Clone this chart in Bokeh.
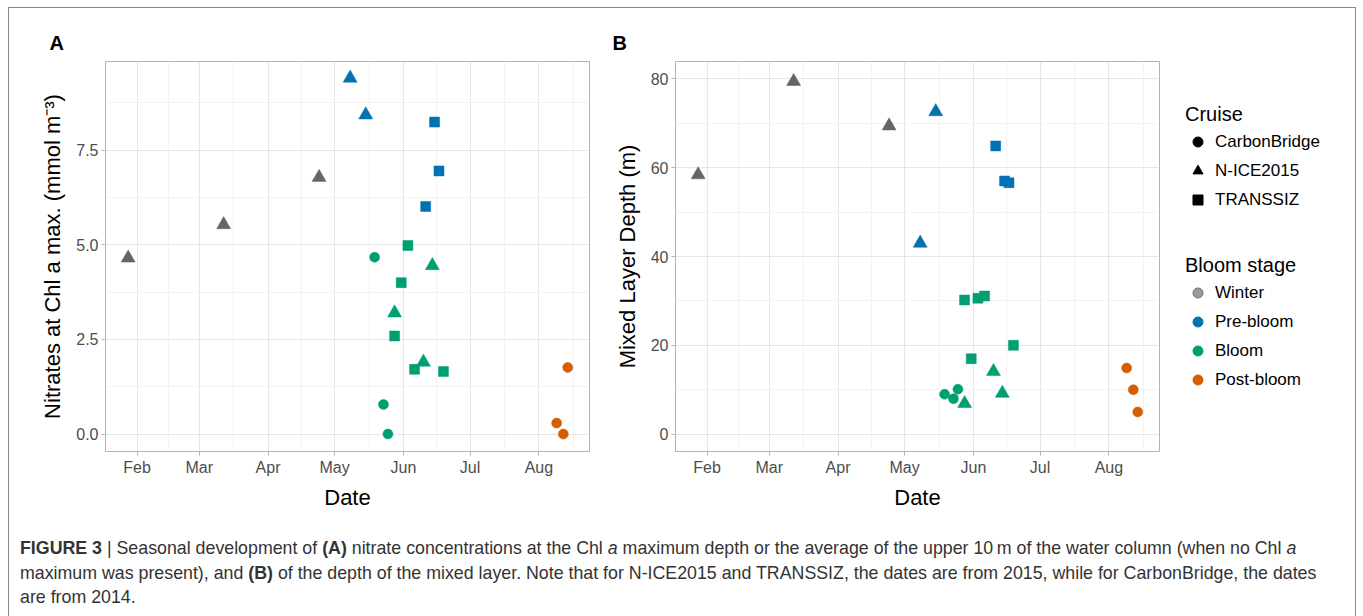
import pandas as pd
from bokeh.plotting import figure
from bokeh.models import (ColumnDataSource, Range1d, FixedTicker, DatetimeTickFormatter,
                          NumeralTickFormatter, Title, Legend, LegendItem, Div)
from bokeh.layouts import row, column
from bokeh.embed import file_html
from bokeh.resources import INLINE

FONT = "Liberation Sans"

# ---------------- data: panel A (nitrate at Chl a max) ----------------
a_date = ["2015-01-28", "2015-03-12", "2015-04-24",
          "2015-05-08", "2015-05-15", "2015-06-15", "2015-06-17", "2015-06-11",
          "2015-05-19", "2015-05-23", "2015-05-25",
          "2015-06-03", "2015-05-31", "2015-05-28", "2015-06-06", "2015-06-19",
          "2015-06-14", "2015-05-28", "2015-06-10",
          "2015-08-14", "2015-08-09", "2015-08-12"]
a_nitrate = [4.65, 5.53, 6.78,
             9.40, 8.43, 8.24, 6.95, 6.01,
             4.67, 0.78, 0.00,
             4.98, 4.00, 2.59, 1.71, 1.65,
             4.45, 3.20, 1.90,
             1.76, 0.29, 0.00]
a_cruise = ["N-ICE2015", "N-ICE2015", "N-ICE2015",
            "N-ICE2015", "N-ICE2015", "TRANSSIZ", "TRANSSIZ", "TRANSSIZ",
            "CarbonBridge", "CarbonBridge", "CarbonBridge",
            "TRANSSIZ", "TRANSSIZ", "TRANSSIZ", "TRANSSIZ", "TRANSSIZ",
            "N-ICE2015", "N-ICE2015", "N-ICE2015",
            "CarbonBridge", "CarbonBridge", "CarbonBridge"]
a_stage = ["Winter", "Winter", "Winter",
           "Pre-bloom", "Pre-bloom", "Pre-bloom", "Pre-bloom", "Pre-bloom",
           "Bloom", "Bloom", "Bloom",
           "Bloom", "Bloom", "Bloom", "Bloom", "Bloom",
           "Bloom", "Bloom", "Bloom",
           "Post-bloom", "Post-bloom", "Post-bloom"]

# ---------------- data: panel B (mixed layer depth) ----------------
b_date = ["2015-01-28", "2015-03-12", "2015-04-24",
          "2015-05-15", "2015-05-08", "2015-06-11", "2015-06-15", "2015-06-17",
          "2015-05-28", "2015-06-03", "2015-06-06", "2015-05-31", "2015-06-19",
          "2015-06-10", "2015-06-14", "2015-05-28",
          "2015-05-19", "2015-05-23", "2015-05-25",
          "2015-08-09", "2015-08-12", "2015-08-14"]
b_mld = [58.4, 79.4, 69.4,
         72.6, 43.0, 64.9, 57.0, 56.6,
         30.2, 30.6, 31.1, 17.0, 20.0,
         14.1, 9.2, 6.9,
         9.0, 8.0, 10.1,
         14.9, 10.0, 5.0]
b_cruise = ["N-ICE2015", "N-ICE2015", "N-ICE2015",
            "N-ICE2015", "N-ICE2015", "TRANSSIZ", "TRANSSIZ", "TRANSSIZ",
            "TRANSSIZ", "TRANSSIZ", "TRANSSIZ", "TRANSSIZ", "TRANSSIZ",
            "N-ICE2015", "N-ICE2015", "N-ICE2015",
            "CarbonBridge", "CarbonBridge", "CarbonBridge",
            "CarbonBridge", "CarbonBridge", "CarbonBridge"]
b_stage = ["Winter", "Winter", "Winter",
           "Pre-bloom", "Pre-bloom", "Pre-bloom", "Pre-bloom", "Pre-bloom",
           "Bloom", "Bloom", "Bloom", "Bloom", "Bloom",
           "Bloom", "Bloom", "Bloom",
           "Bloom", "Bloom", "Bloom",
           "Post-bloom", "Post-bloom", "Post-bloom"]

cruises = ["CarbonBridge", "N-ICE2015", "TRANSSIZ"]
stages = ["Winter", "Pre-bloom", "Bloom", "Post-bloom"]
month_labels = ["2015-02-01", "2015-03-01", "2015-04-01", "2015-05-01",
                "2015-06-01", "2015-07-01", "2015-08-01"]
month_minor = ["2015-02-15", "2015-03-16 12:00", "2015-04-16", "2015-05-16 12:00",
               "2015-06-16", "2015-07-16 12:00", "2015-08-16 12:00"]
x_start, x_end = "2015-01-17 19:00", "2015-08-23 19:00"

MARKER = {"CarbonBridge": "circle", "N-ICE2015": "triangle", "TRANSSIZ": "square"}
MSIZE = {"CarbonBridge": 10, "N-ICE2015": 14, "TRANSSIZ": 10}
COLOR = {"Winter": "#656565", "Pre-bloom": "#0072B2", "Bloom": "#009E73", "Post-bloom": "#D55E00"}

GRID_MAJOR = "#e6e6e6"
GRID_MINOR = "#f2f2f2"
BORDER = "#b3b3b3"


def ms(s):
    return pd.Timestamp(s).value // 10**6


def panel(dates, vals, crs, stg, yr, yticks, yminor, yfmt, ylabel, letter,
          mbl, mbr, loff):
    p = figure(frame_width=484, frame_height=390, x_axis_type="datetime",
               x_range=Range1d(pd.Timestamp(x_start), pd.Timestamp(x_end)),
               y_range=Range1d(yr[0], yr[1]),
               output_backend="svg", toolbar_location=None,
               min_border_left=mbl, min_border_right=mbr,
               min_border_top=53, min_border_bottom=64,
               background_fill_color="white", border_fill_color="white")
    p.outline_line_color = BORDER
    p.outline_line_width = 1

    xt = FixedTicker(ticks=[ms(d) for d in month_labels], minor_ticks=[ms(d) for d in month_minor])
    p.xaxis.ticker = xt
    p.xgrid.ticker = xt
    fmt = "%b"
    p.xaxis.formatter = DatetimeTickFormatter(
        microseconds=fmt, milliseconds=fmt, seconds=fmt, minsec=fmt, minutes=fmt,
        hourmin=fmt, hours=fmt, days=fmt, months=fmt, years=fmt)
    yt = FixedTicker(ticks=yticks, minor_ticks=yminor)
    p.yaxis.ticker = yt
    p.ygrid.ticker = yt
    p.yaxis.formatter = NumeralTickFormatter(format=yfmt)

    for g in (p.xgrid, p.ygrid):
        g.grid_line_color = GRID_MAJOR
        g.grid_line_width = 1
        g.minor_grid_line_color = GRID_MINOR
        g.minor_grid_line_width = 1

    for ax in (p.xaxis, p.yaxis):
        ax.axis_line_color = None
        ax.major_tick_line_color = BORDER
        ax.major_tick_in = 0
        ax.major_tick_out = 4
        ax.minor_tick_line_color = None
        ax.major_label_text_font = FONT
        ax.major_label_text_font_size = "16px"
        ax.major_label_text_color = "#4d4d4d"
        ax.axis_label_text_font = FONT
        ax.axis_label_text_font_size = "22px"
        ax.axis_label_text_font_style = "normal"
        ax.axis_label_text_color = "#000000"
    p.xaxis.axis_label = "Date"
    p.xaxis.major_label_standoff = 3
    p.xaxis.axis_label_standoff = 6
    p.yaxis.axis_label = ylabel
    p.yaxis.major_label_standoff = 3
    p.yaxis.axis_label_standoff = 8

    src = ColumnDataSource(dict(
        x=[pd.Timestamp(d) for d in dates], y=vals,
        marker=[MARKER[c] for c in crs], size=[MSIZE[c] for c in crs],
        color=[COLOR[s] for s in stg]))
    p.scatter("x", "y", source=src, marker="marker", size="size",
              fill_color="color", line_color="color", line_width=0.5)

    p.add_layout(Title(text=letter, align="left", offset=loff, standoff=16,
                       text_font=FONT, text_font_size="20px", text_font_style="bold",
                       text_color="#000000"), "above")
    return p


pA = panel(a_date, a_nitrate, a_cruise, a_stage, (-0.46, 9.84), [0, 2.5, 5, 7.5],
           [1.25, 3.75, 6.25, 8.75], "0.0", "Nitrates at Chl a max. (mmol m\u207b\u00b3)",
           "A", 96, 11, -56)
pB = panel(b_date, b_mld, b_cruise, b_stage, (-3.9, 83.9), [0, 20, 40, 60, 80],
           [10, 30, 50, 70], "0", "Mixed Layer Depth (m)", "B", 75, 16, -63)


def legend_fig(top, fh, title, labels, kinds):
    p = figure(frame_width=169, frame_height=fh, x_range=Range1d(0, 1), y_range=Range1d(0, 1),
               x_axis_location=None, y_axis_location=None, toolbar_location=None,
               output_backend="svg", min_border_left=10, min_border_right=0,
               min_border_top=top, min_border_bottom=0,
               background_fill_color="white", border_fill_color="white")
    p.outline_line_color = None
    p.xgrid.visible = False
    p.ygrid.visible = False
    items = []
    for lab, (mk, fc, lc) in zip(labels, kinds):
        # legend proxy: a renderer whose only point is NaN, so nothing shows in the frame
        r = p.scatter(x=[float("nan")], y=[float("nan")], marker=mk, size=10,
                      fill_color=fc, line_color=lc, line_width=1)
        items.append(LegendItem(label=lab, renderers=[r]))
    leg = Legend(items=items, title=title, location="top_left", margin=0, padding=0,
                 spacing=4, glyph_width=25, glyph_height=25, label_height=25,
                 label_standoff=5, title_standoff=3,
                 title_text_font=FONT, title_text_font_size="20px", title_text_font_style="normal",
                 title_text_color="#000000",
                 label_text_font=FONT, label_text_font_size="17px", label_text_color="#000000",
                 border_line_color=None, background_fill_alpha=0)
    p.add_layout(leg)
    return p


pL1 = legend_fig(95, 151, "Cruise", cruises,
                 [("circle", "black", "black"), ("triangle", "black", "black"),
                  ("square", "black", "black")])
pL2 = legend_fig(0, 260, "Bloom stage", stages,
                 [("circle", "#9a9a9a", "#6e6e6e"), ("circle", COLOR["Pre-bloom"], COLOR["Pre-bloom"]),
                  ("circle", COLOR["Bloom"], COLOR["Bloom"]), ("circle", COLOR["Post-bloom"], COLOR["Post-bloom"])])

caption = Div(
    text=("<b>FIGURE 3</b> | Seasonal development of <b>(A)</b> nitrate concentrations at the Chl <i>a</i> "
          "maximum depth or the average of the upper 10\u2009m of the water column (when no Chl <i>a</i><br>"
          "maximum was present), and <b>(B)</b> of the depth of the mixed layer. Note that for N-ICE2015 and "
          "TRANSSIZ, the dates are from 2015, while for CarbonBridge, the dates<br>are from 2014."),
    width=1346, height=92,
    styles={"font-family": FONT, "font-size": "17.8px", "line-height": "24.5px",
            "color": "#333333", "padding-left": "6px", "padding-top": "16px",
            "white-space": "nowrap", "box-sizing": "border-box", "overflow": "visible"})

layout = column(row(pA, pB, column(pL1, pL2)), caption,
                styles={"margin-left": "8px", "margin-top": "7px",
                        "width": "1348px", "max-width": "1348px", "box-sizing": "border-box",
                        "border-top": "1px solid #8a8a8a", "border-left": "1px solid #8a8a8a",
                        "border-right": "1px solid #8a8a8a"})

open("out.html", "w").write(file_html(layout, INLINE))
